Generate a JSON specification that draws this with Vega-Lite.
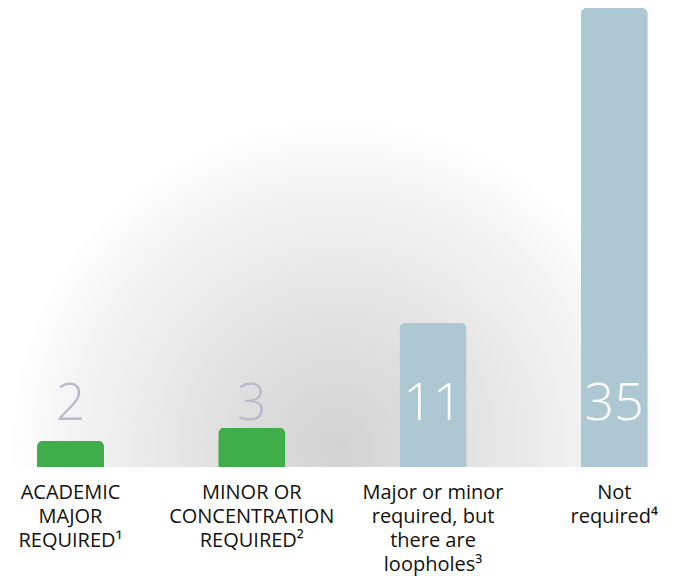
{
  "$schema": "https://vega.github.io/schema/vega-lite/v6.json",
  "width": 675,
  "height": 459,
  "autosize": {"type": "none"},
  "padding": {"left": 0, "right": 0, "top": 8, "bottom": 109},
  "background": "white",
  "view": {
    "stroke": null,
    "fill": {
      "gradient": "radial",
      "x1": 0.5, "y1": 0.81, "r1": 0,
      "x2": 0.5, "y2": 0.81, "r2": 0.49,
      "stops": [
        {"offset": 0, "color": "#d3d3d3"},
        {"offset": 0.3, "color": "#dedede"},
        {"offset": 0.55, "color": "#e9e9e9"},
        {"offset": 0.78, "color": "#f3f3f3"},
        {"offset": 1, "color": "#ffffff"}
      ]
    }
  },
  "data": {
    "values": [
      {"category": "ACADEMIC|MAJOR|REQUIRED¹", "value": 2, "group": "required"},
      {"category": "MINOR OR|CONCENTRATION|REQUIRED²", "value": 3, "group": "required"},
      {"category": "Major or minor|required, but|there are|loopholes³", "value": 11, "group": "not"},
      {"category": "Not|required⁴", "value": 35, "group": "not"}
    ]
  },
  "encoding": {
    "x": {
      "field": "category",
      "type": "nominal",
      "sort": null,
      "scale": {"paddingInner": 0.63, "paddingOuter": 0.177, "align": 0.576},
      "axis": {
        "title": null,
        "domain": false,
        "ticks": false,
        "labelAngle": 0,
        "labelFont": "Open Sans",
        "labelFontSize": 20,
        "labelColor": "#111111",
        "labelLineHeight": 24,
        "labelPadding": 15,
        "labelLimit": 300,
        "labelOverlap": false,
        "labelExpr": "split(datum.label, '|')"
      }
    }
  },
  "layer": [
    {
      "mark": {"type": "bar", "cornerRadiusTopLeft": 6, "cornerRadiusTopRight": 6},
      "encoding": {
        "y": {"field": "value", "type": "quantitative", "scale": {"domain": [0, 35]}, "axis": null},
        "color": {
          "field": "group",
          "type": "nominal",
          "scale": {"domain": ["required", "not"], "range": ["#3fae4a", "#adc8d2"]},
          "legend": null
        }
      }
    },
    {
      "mark": {"type": "text", "font": "Open Sans", "fontWeight": 300, "fontSize": 52, "baseline": "alphabetic", "align": "center"},
      "encoding": {
        "y": {"datum": 3.6, "type": "quantitative"},
        "text": {"field": "value", "type": "quantitative"},
        "color": {"condition": {"test": "datum.value < 5", "value": "#bdb9cc"}, "value": "#ffffff"}
      }
    }
  ]
}
